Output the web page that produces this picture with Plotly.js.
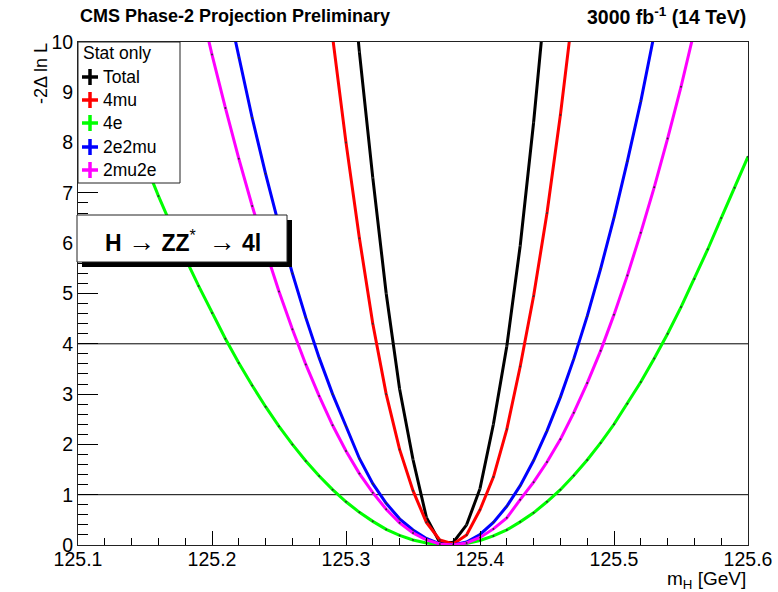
<!DOCTYPE html>
<html><head><meta charset="utf-8">
<script src="https://cdn.plot.ly/plotly-3.0.1.min.js"></script>
<style>html,body{margin:0;padding:0;background:#fff}#chart{width:778px;height:592px}</style>
</head><body><div id="chart"></div>
<script>
// ---- data ----
const seriesNames = ['Total', '4mu', '4e', '2e2mu', '2mu2e'];
const legendHeader = 'Stat only';

const mTotal = [125.30,125.31,125.32,125.33,125.34,125.35,125.36,125.37,125.38,125.39,125.40,125.41,125.42,125.43,125.44,125.45];
const nllTotal = [12.6,9.8,7.3,5.0,3.1,1.7,0.55,0.05,0.05,0.4,1.12,2.4,3.95,5.95,8.4,11.2];

const m4mu = [125.28,125.29,125.30,125.31,125.32,125.33,125.34,125.35,125.36,125.37,125.38,125.39,125.40,125.41,125.42,125.43,125.44,125.45,125.46,125.47];
const nll4mu = [11.5,10.1,8.0,6.1,4.4,3.0,1.9,1.08,0.45,0.1,0.02,0.2,0.7,1.35,2.3,3.55,4.95,6.6,8.55,10.75];

const m4e = [125.10,125.11,125.12,125.13,125.14,125.15,125.16,125.17,125.18,125.19,125.20,125.21,125.22,125.23,125.24,125.25,125.26,125.27,125.28,125.29,125.30,125.31,125.32,125.33,125.34,125.35,125.36,125.37,125.38,125.39,125.40,125.41,125.42,125.43,125.44,125.45,125.46,125.47,125.48,125.49,125.50,125.51,125.52,125.53,125.54,125.55,125.56,125.57,125.58,125.59,125.60];
const nll4e = [11.33,10.52,9.75,9.00,8.28,7.60,6.94,6.31,5.71,5.15,4.61,4.10,3.62,3.17,2.75,2.36,2.00,1.67,1.37,1.10,0.86,0.65,0.47,0.31,0.19,0.10,0.04,0.01,0.00,0.03,0.09,0.18,0.30,0.46,0.64,0.86,1.10,1.38,1.69,2.03,2.40,2.81,3.24,3.71,4.20,4.73,5.29,5.88,6.50,7.10,7.72];

const m2e2mu = [125.21,125.22,125.23,125.24,125.25,125.26,125.27,125.28,125.29,125.30,125.31,125.32,125.33,125.34,125.35,125.36,125.37,125.38,125.39,125.40,125.41,125.42,125.43,125.44,125.45,125.46,125.47,125.48,125.49,125.50,125.51,125.52,125.53,125.54];
const nll2e2mu = [10.94,9.68,8.49,7.38,6.35,5.40,4.52,3.72,3.00,2.36,1.72,1.22,0.83,0.52,0.30,0.13,0.02,0.00,0.06,0.21,0.45,0.77,1.18,1.68,2.27,2.94,3.70,4.55,5.49,6.51,7.63,8.82,10.11,11.49];

const m2mu2e = [125.19,125.20,125.21,125.22,125.23,125.24,125.25,125.26,125.27,125.28,125.29,125.30,125.31,125.32,125.33,125.34,125.35,125.36,125.37,125.38,125.39,125.40,125.41,125.42,125.43,125.44,125.45,125.46,125.47,125.48,125.49,125.50,125.51,125.52,125.53,125.54,125.55,125.56,125.57];
const nll2mu2e = [10.88,9.75,8.69,7.68,6.74,5.86,5.04,4.29,3.59,2.96,2.38,1.87,1.42,1.04,0.71,0.44,0.24,0.10,0.02,0.00,0.04,0.15,0.32,0.54,0.90,1.25,1.65,2.10,2.63,3.22,3.86,4.58,5.36,6.21,7.11,8.08,9.11,10.20,11.35];

const refLevels = [1, 4];
const xTickVals = [125.1, 125.2, 125.3, 125.4, 125.5, 125.6];
const xTickText = ['125.1', '125.2', '125.3', '125.4', '125.5', '125.6'];
const yTickVals = [0,1,2,3,4,5,6,7,8,9,10];
const yTickText = ['0','1','2','3','4','5','6','7','8','9','10'];

// ---- styles ----
const colors = ['#000000', '#ff0000', '#00ff00', '#0000ff', '#ff00ff'];
const FONT = '"Liberation Sans", Arial, Helvetica, sans-serif';
const PL = 78, PT = 42; // plot-area left / top in pixels

const xs = [mTotal, m4mu, m4e, m2e2mu, m2mu2e];
const ys = [nllTotal, nll4mu, nll4e, nll2e2mu, nll2mu2e];

const traces = seriesNames.map((name, i) => ({
  type: 'scatter', mode: 'lines+markers', name: name,
  x: xs[i], y: ys[i],
  line: {color: colors[i], width: 3},
  marker: {size: 2, color: '#333'},
  showlegend: false, hoverinfo: 'skip'
}));

function pxShape(x0, y0, x1, y1, extra) {
  return Object.assign({
    xref: 'paper', yref: 'paper', xsizemode: 'pixel', ysizemode: 'pixel',
    xanchor: 0, yanchor: 1,
    x0: x0 - PL, x1: x1 - PL, y0: PT - y0, y1: PT - y1, layer: 'above'
  }, extra);
}
function pxText(text, x, y, xanchor, font, extra) {
  return Object.assign({
    xref: 'paper', yref: 'paper', x: 0, y: 1, xshift: x - PL, yshift: PT - y,
    xanchor: xanchor, yanchor: 'middle', showarrow: false, text: text,
    font: Object.assign({family: FONT, color: 'black'}, font)
  }, extra);
}

const shapes = [];
refLevels.forEach(v => shapes.push({
  type: 'line', xref: 'paper', yref: 'y', x0: 0, x1: 1, y0: v, y1: v,
  line: {color: 'black', width: 1}, layer: 'below'
}));
// legend box
shapes.push(pxShape(78, 42, 180, 183, {type: 'rect', fillcolor: 'white', line: {color: '#222', width: 1}}));
const annotations = [];
annotations.push(pxText(legendHeader, 81, 53, 'left', {size: 17.5}));
const legY = [77, 100, 123, 147, 170];
seriesNames.forEach((name, i) => {
  const yc = legY[i];
  shapes.push(pxShape(82, yc, 98, yc, {type: 'line', line: {color: colors[i], width: 3.5}}));
  shapes.push(pxShape(90, yc - 8, 90, yc + 8, {type: 'line', line: {color: colors[i], width: 3.5}}));
  annotations.push(pxText(name, 101, yc, 'left', {size: 17.5}));
});
// process label box with shadow
shapes.push(pxShape(82, 220, 292, 267, {type: 'rect', fillcolor: 'black', line: {width: 0}}));
shapes.push(pxShape(77, 215, 287, 262, {type: 'rect', fillcolor: 'white', line: {color: '#222', width: 1}}));
annotations.push(pxText('<b>H</b> <span style="font-size:27px">→</span> <b>ZZ</b><sup>*</sup>  <span style="font-size:27px">→</span> <b>4l</b>', 183, 241, 'center', {size: 23}));

// titles
annotations.push(pxText('<b>CMS Phase-2 Projection Preliminary</b>', 78, 16, 'left', {size: 18}));
annotations.push(pxText('<b>3000 fb<sup>-1</sup> (14 TeV)</b>', 748, 16, 'right', {size: 19.5}));
annotations.push(pxText('m<sub>H</sub> [GeV]', 748, 580, 'right', {size: 19}));
annotations.push(pxText('-2Δ ln L', 41, 74, 'center', {size: 18}, {textangle: -90}));

const layout = {
  width: 778, height: 592,
  margin: {l: 78, r: 30, t: 42, b: 47, pad: 0},
  paper_bgcolor: 'white', plot_bgcolor: 'white',
  showlegend: false,
  font: {family: FONT, size: 19, color: 'black'},
  xaxis: {
    range: [125.1, 125.6], tickmode: 'array', tickvals: xTickVals, ticktext: xTickText,
    ticks: 'inside', ticklen: 14, tickwidth: 1, tickcolor: 'black', ticklabelstandoff: -3,
    showline: true, mirror: true, linecolor: '#222', linewidth: 1,
    showgrid: false, zeroline: false, tickfont: {size: 19.5},
    minor: {tickmode: 'linear', tick0: 125.1, dtick: 0.02, ticks: 'inside', ticklen: 7, tickwidth: 1, tickcolor: 'black', showgrid: false}
  },
  yaxis: {
    range: [0, 10], tickmode: 'array', tickvals: yTickVals, ticktext: yTickText,
    ticks: 'inside', ticklen: 20, tickwidth: 1, tickcolor: 'black',
    showline: true, mirror: true, linecolor: '#222', linewidth: 1,
    showgrid: false, zeroline: false, tickfont: {size: 19.5},
    minor: {tickmode: 'linear', tick0: 0, dtick: 0.2, ticks: 'inside', ticklen: 10, tickwidth: 1, tickcolor: 'black', showgrid: false}
  },
  shapes: shapes,
  annotations: annotations
};

Plotly.newPlot('chart', traces, layout, {displayModeBar: false, staticPlot: true});
</script>
</body></html>
